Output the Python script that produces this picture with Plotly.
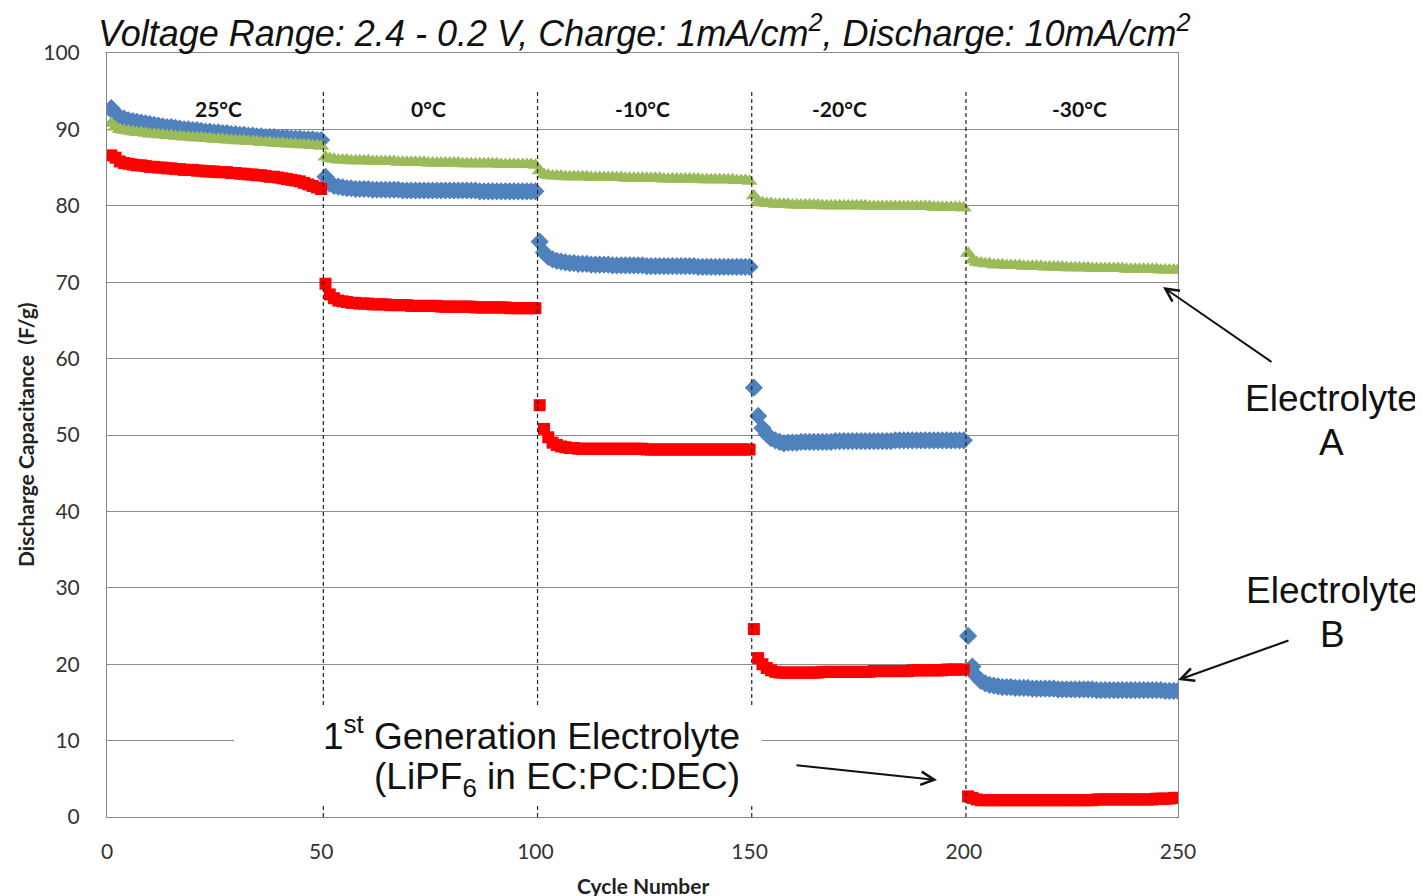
import plotly.graph_objects as go

# cycle segments start at these cycle numbers, 50 cycles each
SEG_START = [1, 51, 101, 151, 201]
TEMPS = ["25°C", "0°C", "-10°C", "-20°C", "-30°C"]
TEMP_X = [26, 75, 125, 171, 227]

GREEN = [
    [90.8, 90.3, 90.0, 89.9, 89.8, 89.7, 89.6, 89.6, 89.5, 89.4,
     89.4, 89.3, 89.3, 89.2, 89.2, 89.1, 89.1, 89.0, 89.0, 88.9,
     88.9, 88.9, 88.8, 88.8, 88.7, 88.7, 88.7, 88.6, 88.6, 88.5,
     88.5, 88.5, 88.4, 88.4, 88.4, 88.3, 88.3, 88.3, 88.2, 88.2,
     88.2, 88.1, 88.1, 88.1, 88.0, 88.0, 88.0, 87.9, 87.9, 87.8],
    [86.4, 86.2, 86.1, 86.0, 86.0, 86.0, 85.9, 85.9, 85.9, 85.9,
     85.9, 85.8, 85.8, 85.8, 85.8, 85.8, 85.8, 85.7, 85.7, 85.7,
     85.7, 85.7, 85.7, 85.7, 85.6, 85.6, 85.6, 85.6, 85.6, 85.6,
     85.6, 85.6, 85.5, 85.5, 85.5, 85.5, 85.5, 85.5, 85.5, 85.5,
     85.5, 85.4, 85.4, 85.4, 85.4, 85.4, 85.4, 85.4, 85.4, 85.3],
    [84.6, 84.1, 84.0, 83.9, 83.9, 83.9, 83.8, 83.8, 83.8, 83.8,
     83.8, 83.8, 83.7, 83.7, 83.7, 83.7, 83.7, 83.7, 83.7, 83.7,
     83.6, 83.6, 83.6, 83.6, 83.6, 83.6, 83.6, 83.6, 83.6, 83.5,
     83.5, 83.5, 83.5, 83.5, 83.5, 83.5, 83.5, 83.5, 83.4, 83.4,
     83.4, 83.4, 83.4, 83.4, 83.4, 83.4, 83.3, 83.3, 83.3, 83.2],
    [81.3, 80.6, 80.4, 80.3, 80.3, 80.2, 80.2, 80.2, 80.2, 80.1,
     80.1, 80.1, 80.1, 80.1, 80.1, 80.1, 80.0, 80.0, 80.0, 80.0,
     80.0, 80.0, 80.0, 80.0, 80.0, 80.0, 80.0, 79.9, 79.9, 79.9,
     79.9, 79.9, 79.9, 79.9, 79.9, 79.9, 79.9, 79.9, 79.9, 79.9,
     79.9, 79.9, 79.8, 79.8, 79.8, 79.8, 79.8, 79.8, 79.8, 79.7],
    [73.8, 72.9, 72.6, 72.5, 72.4, 72.4, 72.3, 72.3, 72.3, 72.2,
     72.2, 72.2, 72.2, 72.1, 72.1, 72.1, 72.1, 72.1, 72.0, 72.0,
     72.0, 72.0, 72.0, 71.9, 71.9, 71.9, 71.9, 71.9, 71.9, 71.8,
     71.8, 71.8, 71.8, 71.8, 71.8, 71.8, 71.8, 71.7, 71.7, 71.7,
     71.7, 71.7, 71.7, 71.7, 71.7, 71.6, 71.6, 71.6, 71.6, 71.6],
]

BLUE = [
    [92.8, 92.0, 91.6, 91.4, 91.2, 91.1, 91.0, 90.9, 90.8, 90.7,
     90.6, 90.5, 90.4, 90.3, 90.3, 90.2, 90.1, 90.0, 90.0, 89.9,
     89.9, 89.8, 89.7, 89.7, 89.6, 89.6, 89.5, 89.5, 89.4, 89.4,
     89.3, 89.3, 89.2, 89.2, 89.1, 89.1, 89.0, 89.0, 89.0, 88.9,
     88.9, 88.9, 88.8, 88.8, 88.8, 88.7, 88.7, 88.7, 88.6, 88.6],
    [83.8, 82.9, 82.6, 82.5, 82.4, 82.3, 82.3, 82.2, 82.2, 82.2,
     82.2, 82.1, 82.1, 82.1, 82.1, 82.1, 82.1, 82.1, 82.0, 82.0,
     82.0, 82.0, 82.0, 82.0, 82.0, 82.0, 82.0, 82.0, 82.0, 82.0,
     82.0, 82.0, 82.0, 82.0, 82.0, 82.0, 81.9, 81.9, 81.9, 81.9,
     81.9, 81.9, 81.9, 81.9, 81.9, 81.9, 81.9, 81.9, 81.9, 81.9],
    [75.3, 73.9, 73.3, 73.0, 72.8, 72.7, 72.6, 72.5, 72.5, 72.4,
     72.4, 72.4, 72.3, 72.3, 72.3, 72.3, 72.3, 72.2, 72.2, 72.2,
     72.2, 72.2, 72.2, 72.2, 72.2, 72.1, 72.1, 72.1, 72.1, 72.1,
     72.1, 72.1, 72.1, 72.1, 72.1, 72.1, 72.1, 72.0, 72.0, 72.0,
     72.0, 72.0, 72.0, 72.0, 72.0, 72.0, 72.0, 72.0, 72.0, 72.0],
    [56.2, 52.5, 50.9, 50.1, 49.6, 49.3, 49.1, 48.9, 49.0, 49.0,
     49.0, 49.1, 49.1, 49.1, 49.1, 49.1, 49.1, 49.1, 49.1, 49.2,
     49.2, 49.2, 49.2, 49.2, 49.2, 49.2, 49.2, 49.2, 49.2, 49.2,
     49.2, 49.2, 49.2, 49.3, 49.3, 49.3, 49.3, 49.3, 49.3, 49.3,
     49.3, 49.3, 49.3, 49.3, 49.3, 49.3, 49.3, 49.3, 49.3, 49.3],
    [23.7, 19.7, 18.4, 17.8, 17.5, 17.3, 17.2, 17.1, 17.0, 17.0,
     17.0, 16.9, 16.9, 16.9, 16.9, 16.8, 16.8, 16.8, 16.8, 16.8,
     16.8, 16.7, 16.7, 16.7, 16.7, 16.7, 16.7, 16.7, 16.7, 16.7,
     16.6, 16.6, 16.6, 16.6, 16.6, 16.6, 16.6, 16.6, 16.6, 16.6,
     16.6, 16.6, 16.6, 16.6, 16.6, 16.6, 16.5, 16.5, 16.5, 16.5],
]

RED = [
    [86.6, 86.3, 85.8, 85.6, 85.5, 85.4, 85.3, 85.3, 85.2, 85.1,
     85.1, 85.0, 85.0, 84.9, 84.9, 84.8, 84.8, 84.7, 84.7, 84.7,
     84.6, 84.6, 84.5, 84.5, 84.5, 84.4, 84.4, 84.4, 84.3, 84.3,
     84.2, 84.2, 84.1, 84.1, 84.0, 84.0, 83.9, 83.8, 83.8, 83.7,
     83.6, 83.5, 83.4, 83.3, 83.2, 83.0, 82.8, 82.6, 82.4, 82.2],
    [69.8, 68.4, 67.9, 67.6, 67.5, 67.4, 67.3, 67.3, 67.2, 67.2,
     67.2, 67.1, 67.1, 67.1, 67.1, 67.0, 67.0, 67.0, 67.0, 67.0,
     66.9, 66.9, 66.9, 66.9, 66.9, 66.9, 66.9, 66.8, 66.8, 66.8,
     66.8, 66.8, 66.8, 66.8, 66.8, 66.7, 66.7, 66.7, 66.7, 66.7,
     66.7, 66.7, 66.7, 66.6, 66.6, 66.6, 66.6, 66.6, 66.6, 66.6],
    [53.9, 50.8, 49.7, 49.0, 48.7, 48.5, 48.4, 48.3, 48.3, 48.2,
     48.2, 48.2, 48.2, 48.2, 48.2, 48.2, 48.2, 48.2, 48.2, 48.2,
     48.2, 48.2, 48.2, 48.2, 48.2, 48.1, 48.1, 48.1, 48.1, 48.1,
     48.1, 48.1, 48.1, 48.1, 48.1, 48.1, 48.1, 48.1, 48.1, 48.1,
     48.1, 48.1, 48.1, 48.1, 48.1, 48.1, 48.1, 48.1, 48.1, 48.1],
    [24.6, 20.8, 20.0, 19.5, 19.2, 19.0, 18.9, 18.9, 18.9, 18.9,
     18.9, 18.9, 18.9, 18.9, 18.9, 18.9, 19.0, 19.0, 19.0, 19.0,
     19.0, 19.0, 19.0, 19.0, 19.0, 19.0, 19.0, 19.0, 19.1, 19.1,
     19.1, 19.1, 19.1, 19.1, 19.1, 19.1, 19.1, 19.2, 19.2, 19.2,
     19.2, 19.2, 19.2, 19.2, 19.2, 19.3, 19.3, 19.3, 19.3, 19.3],
    [2.7, 2.5, 2.3, 2.2, 2.2, 2.2, 2.2, 2.2, 2.2, 2.2,
     2.2, 2.2, 2.2, 2.2, 2.2, 2.2, 2.2, 2.2, 2.2, 2.2,
     2.2, 2.2, 2.2, 2.2, 2.2, 2.2, 2.2, 2.2, 2.2, 2.2,
     2.3, 2.3, 2.3, 2.3, 2.3, 2.3, 2.3, 2.3, 2.3, 2.3,
     2.3, 2.3, 2.3, 2.3, 2.4, 2.4, 2.4, 2.4, 2.5, 2.5],
]

DIVIDERS = [50.5, 100.5, 150.5, 200.5]

W, H = 1423, 896
OFF = 8                           # page body margin
L, R, T, B = 107, 1178, 53, 817   # plot area in page pixels


def flatten(segs):
    xs, ys = [], []
    for start, seg in zip(SEG_START, segs):
        xs += list(range(start, start + len(seg)))
        ys += seg
    return xs, ys


def px(x):   # page pixel -> paper x
    return (x - L) / (R - L)


def py(y):   # page pixel -> paper y
    return (B - y) / (B - T)


fig = go.Figure()
for segs, color, symbol, size in [
    (BLUE, "#4f81bd", "diamond", 14),
    (GREEN, "#9bbb59", "triangle-up", 14),
    (RED, "#ff0000", "square", 12),
]:
    xs, ys = flatten(segs)
    fig.add_trace(go.Scatter(x=xs, y=ys, mode="markers", showlegend=False,
                             marker=dict(color=color, symbol=symbol, size=size,
                                         line=dict(width=0))))

shapes = []
for d in DIVIDERS:
    shapes.append(dict(type="line", xref="x", yref="y", x0=d, x1=d, y0=0, y1=95,
                       line=dict(color="#222", width=1.2, dash="4px,3px"),
                       layer="above"))
# white box behind the "1st Generation" label (no markers fall inside it)
shapes.append(dict(type="rect", xref="paper", yref="paper",
                   x0=px(234), x1=px(762), y0=py(805), y1=py(705),
                   fillcolor="white", line=dict(width=0), layer="above"))

ann = []


def label(x, y, text, font, xref="paper", **kw):
    ann.append(dict(x=x, y=y, xref=xref, yref="paper", text=text, showarrow=False,
                    xanchor=kw.pop("xanchor", "center"), yanchor="middle",
                    font=font, **kw))


for t, x in zip(TEMPS, TEMP_X):
    label(x, py(109), "<b>%s</b>" % t, dict(family="Lato", size=21, color="#111"),
          xref="x")

label(px(644), py(31),
      "<i>Voltage Range: 2.4 - 0.2 V, Charge: 1mA/cm<sup>2</sup>, "
      "Discharge: 10mA/cm<sup>2</sup></i>",
      dict(family="Liberation Sans", size=36, color="#111"))
label(px(25), py(435), "<b>Discharge Capacitance  (F/g)</b>",
      dict(family="Lato", size=21, color="#222"), textangle=-90)
label(px(643), py(885), "<b>Cycle Number</b>",
      dict(family="Lato", size=21, color="#222"))

big = dict(family="Liberation Sans", size=37, color="#111")
label(px(1331), py(398), "Electrolyte", big)
label(px(1331), py(442), "A", big)
label(px(1332), py(590), "Electrolyte", big)
label(px(1332), py(634), "B", big)
label(px(742), py(733), "1<sup>st</sup> Generation Electrolyte", big, xanchor="right")
label(px(742), py(779), "(LiPF<sub>6</sub> in EC:PC:DEC)", big, xanchor="right")

# arrows (head position in paper coords, tail offset in pixels)
for hx, hy, tx, ty in [(1163, 287, 1273, 363), (1178, 680, 1290, 640),
                       (937, 780, 795, 765)]:
    ann.append(dict(x=px(hx), y=py(hy), xref="paper", yref="paper", text="",
                    showarrow=True, arrowhead=5, arrowsize=1.3, arrowwidth=2,
                    arrowcolor="#111", ax=tx - hx, ay=ty - hy))

fig.update_layout(
    width=W, height=H,
    margin=dict(l=L - OFF, r=W - R + OFF, t=T - OFF, b=H - B + OFF),
    plot_bgcolor="white", paper_bgcolor="white",
    shapes=shapes, annotations=ann,
    xaxis=dict(range=[0, 250], tickvals=[0, 50, 100, 150, 200, 250], showgrid=False,
               showline=True, linecolor="#868686", mirror=True, zeroline=False,
               ticks="", ticklabelstandoff=16,
               tickfont=dict(family="Lato", size=21, color="#333")),
    yaxis=dict(range=[0, 100], dtick=10, showgrid=True, gridcolor="#8c8c8c",
               gridwidth=1, showline=True, linecolor="#868686", mirror=True,
               zeroline=False, ticks="", ticklabelstandoff=22,
               tickfont=dict(family="Lato", size=21, color="#333")),
)

fig.write_html("out.html")
